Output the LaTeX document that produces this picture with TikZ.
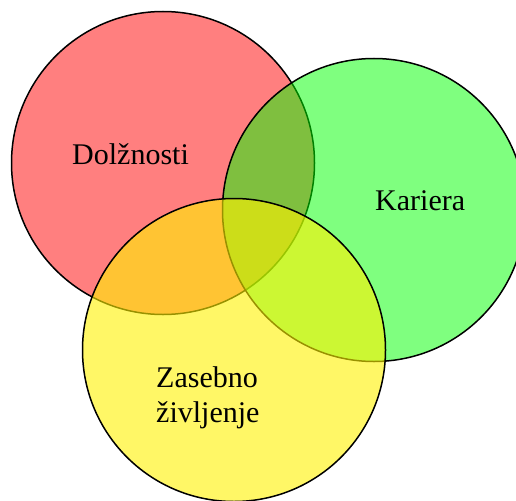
\documentclass[tikz,border=0pt]{standalone}
\usepackage{fontspec}
\setmainfont{Liberation Serif}
\begin{document}
\begin{tikzpicture}[x=1pt,y=-1pt,
  ring/.style={circle,draw=black,line width=1.5pt,minimum size=303pt,inner sep=0pt},
  label/.style={font=\fontsize{30}{35}\selectfont,inner sep=0pt,anchor=base west}]
  \useasboundingbox (0,0) rectangle (516,500);
  \clip (0,0) rectangle (516,500);
  % the three overlapping areas of life
  \node[ring,fill=red,fill opacity=0.5] (duty) at (163,163) {};
  \node[ring,fill=green,fill opacity=0.5] (career) at (374,210) {};
  \node[ring,fill=yellow,fill opacity=0.6] (private) at (234,350) {};
  % labels
  \node[label] (tduty) at (72,164) {Dolžnosti};
  \node[label] (tcareer) at (375,210) {Kariera};
  \node[label,align=left,anchor=north west] (tprivate) at (156,366) {Zasebno\\življenje};
\end{tikzpicture}
\end{document}
